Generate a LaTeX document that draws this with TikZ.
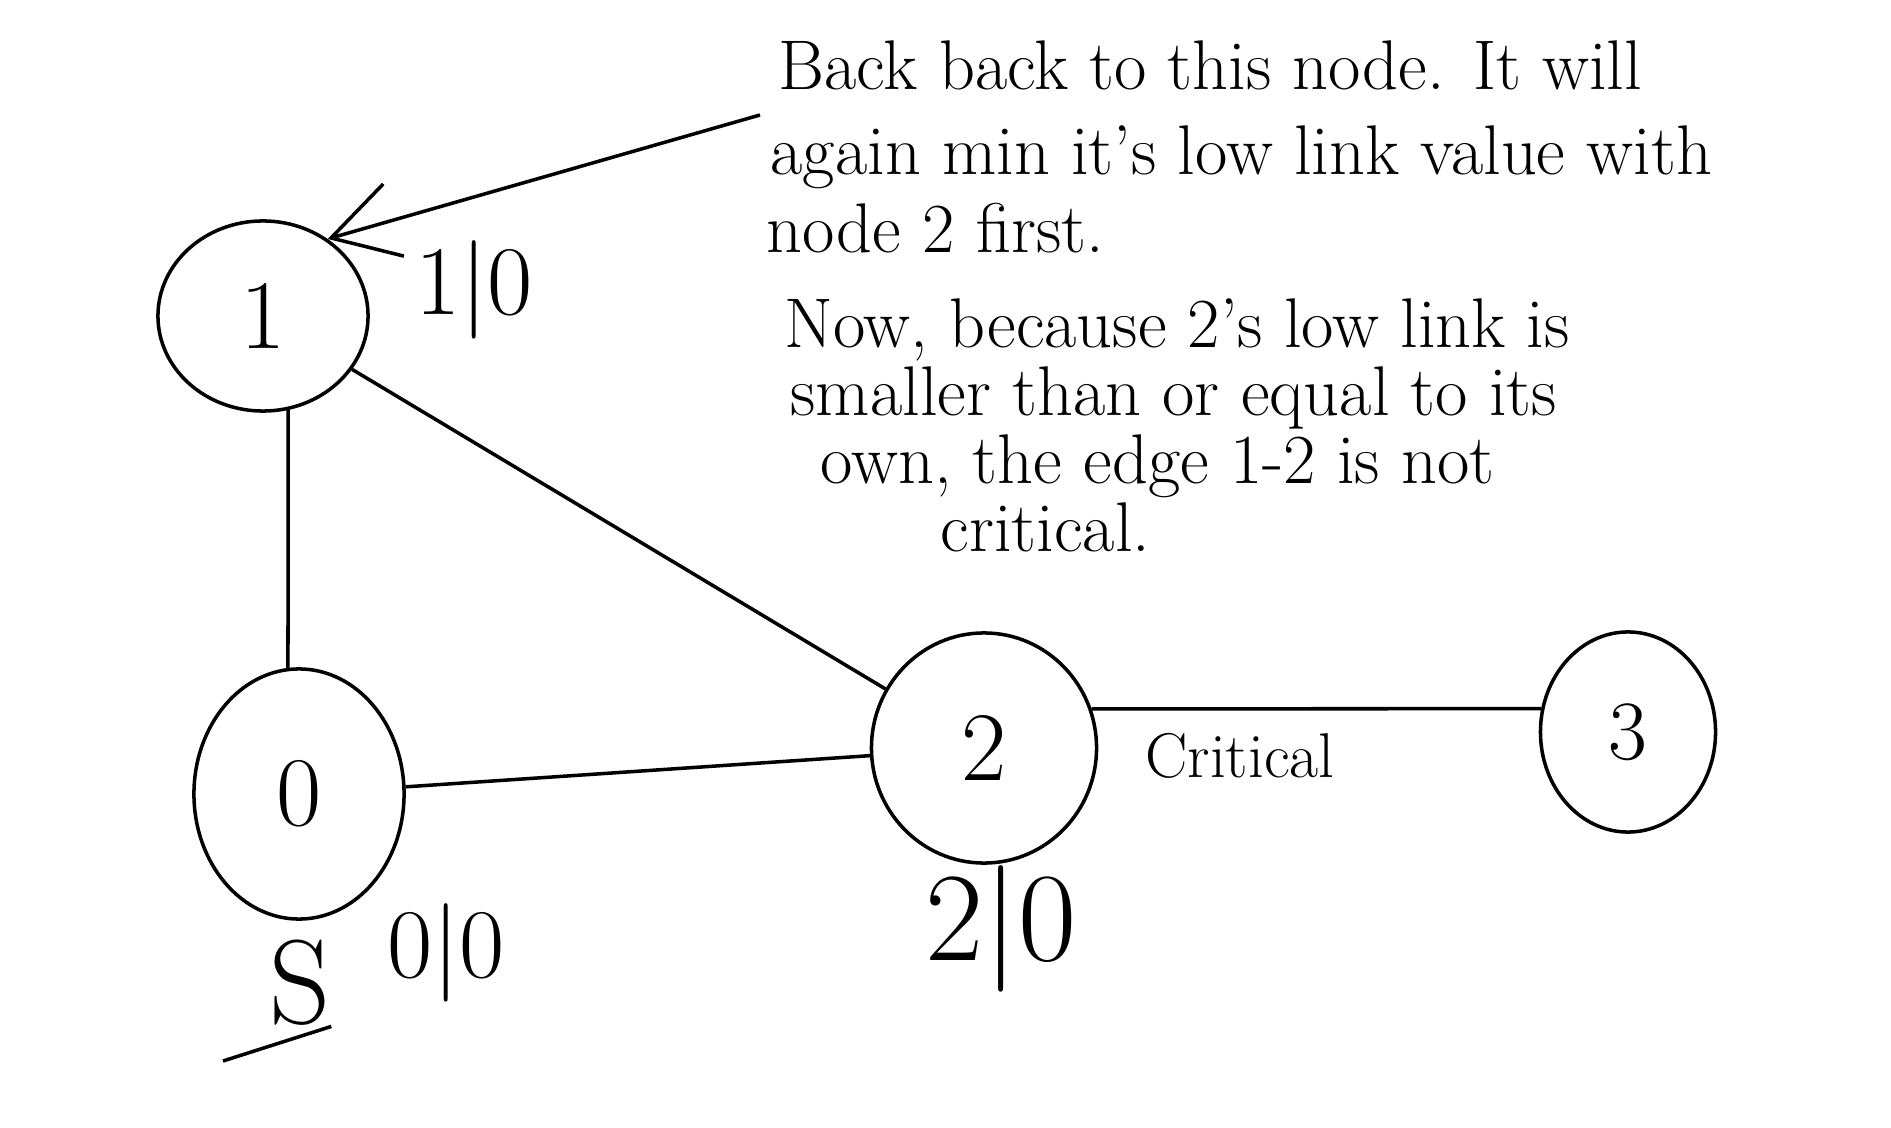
\documentclass[tikz,border=0pt]{standalone}
\usepackage{fontspec}
\usetikzlibrary{shapes.geometric,arrows.meta}

\tikzset{
  vnode/.style={draw, ellipse, line width=1pt, inner sep=0pt, font=\fontsize{28}{30}\selectfont},
  link/.style={line width=1pt},
  note/.style={anchor=base west, inner sep=0pt, font=\fontsize{20}{24}\selectfont},
  val/.style={inner sep=0pt, font=\fontsize{28}{30}\selectfont}
}

\begin{document}
\begin{tikzpicture}[x=0.01cm, y=-0.01cm]
  \useasboundingbox (0,0) rectangle (1891,1128);

  % vertices
  \node[vnode, minimum width=2.1cm, minimum height=1.9cm] (n1) at (263,316) {1};
  \node[vnode, minimum width=2.1cm, minimum height=2.5cm] (n0) at (299,794) {0};
  \node[vnode, minimum width=2.25cm, minimum height=2.3cm] (n2) at (984,748) {2};
  \node[vnode, minimum width=1.75cm, minimum height=2.0cm, font=\fontsize{24}{26}\selectfont] (n3) at (1628,732) {3};

  % edges
  \draw[link] (n1.-75) -- (n0.95);
  \draw[link] (n1) -- (n2);
  \draw[link] (n0) -- (n2);
  \draw[link] (n2.20) -- node[pos=0.33, below=3pt, font=\fontsize{18}{20}\selectfont] (crit) {Critical} (n3.165);

  % id|low values
  \node[val] (lab1) at (474,290) {1|0};
  \node[val] (lab0) at (446,953) {0|0};
  \node[val, font=\fontsize{36}{38}\selectfont] (lab2) at (1001,929) {2|0};

  % start mark
  \node[val, font=\fontsize{34}{36}\selectfont] (start) at (300,983) {S};
  \coordinate (stail) at (223,1061);
  \draw[link] (start.south east) -- (stail);

  % arrow to node 1
  \coordinate (tail) at (760,115);
  \draw[link, -{Straight Barb[length=0.65cm,width=0.75cm]}] (tail) -- (n1.50);

  % note
  \node[note] (l1) at (778,90) {Back back to this node. It will};
  \node[note] (l2) at (770,175) {again min it's low link value with};
  \node[note] (l3) at (766,253) {node 2 first.};
  \node[note] (l4) at (784,348) {Now, because 2's low link is};
  \node[note] (l5) at (790,416) {smaller than or equal to its};
  \node[note] (l6) at (820,484) {own, the edge 1-2 is not};
  \node[note] (l7) at (940,552) {critical.};
\end{tikzpicture}
\end{document}
